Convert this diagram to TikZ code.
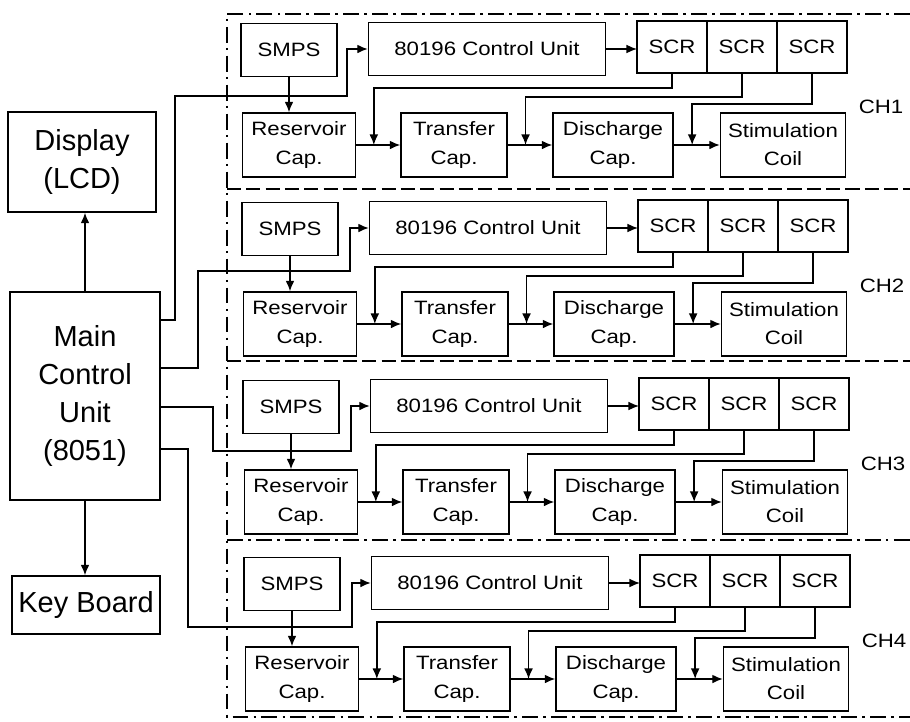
\documentclass[tikz,border=0pt]{standalone}
\usepackage{fontspec}
\setmainfont{Liberation Sans}
\newfontfamily\widefont[FakeStretch=1.15]{Liberation Sans}
\usetikzlibrary{arrows, arrows.meta, positioning, calc}
\tikzset{
	block/.style={draw, thick, align=center, inner sep=1pt, font=\widefont\fontsize{11}{16}\selectfont},
	bigblock/.style={draw, thick, align=center, inner sep=1pt, font=\fontsize{16.5}{21.6}\selectfont},
	scr/.style={block, minimum width=1.4cm, minimum height=1.04cm, outer sep=0pt},
	line/.style={draw, thick, -{Latex[length=6pt, width=5pt]}}
}

\begin{document}
\begin{tikzpicture}[
    % one unit = one pixel of the original figure, y pointing down
    x=0.02cm, y=-0.02cm,
    % dash-dot frame round the four channels
    chframe/.style={thick, dash pattern=on 9pt off 3pt on 1.5pt off 3pt},
    % dashed line between two channels
    chsep/.style={thick, dash pattern=on 8pt off 3pt}
]
\useasboundingbox (0,0) rectangle (910,721);

% --- LEFT SIDE: MAIN CONTROLLER ---
\node[bigblock, minimum width=2.96cm, minimum height=2cm] (lcd) at (82,162) {Display\\(LCD)};
\node[bigblock, minimum width=3cm, minimum height=4.16cm] (mcu) at (85,396) {Main\\Control\\Unit\\(8051)};
\node[bigblock, minimum width=2.96cm, minimum height=1.16cm] (kb) at (86,605) {Key Board};

\draw[line] (mcu.north) -- (mcu.north |- lcd.south);
\draw[line] (mcu.south) -- (mcu.south |- kb.north);

% --- RIGHT SIDE: CHANNEL FRAME ---
\draw[chframe] (910,14) -- (227,14) -- (227,717) -- (910,717);
\foreach \sy in {189,361}
    \draw[chsep] (227,\sy) -- (910,\sy);
\draw[chframe] (227,540) -- (910,540);

% --- CHANNELS CH1 .. CH4 ---
\foreach \ch/\dx/\dy in {1/0/0, 2/1/179, 3/2/357, 4/3/534} {
\begin{scope}[shift={(\dx,\dy)}]
    % upper row
    \node[block, minimum width=1.92cm, minimum height=1.06cm] (smps\ch) at (289,50) {SMPS};
    \node[block, minimum width=4.74cm, minimum height=1.06cm] (cu\ch) at (487,49) {80196 Control Unit};
    \node[scr] (scra\ch) at (672,47) {SCR};
    \node[scr, right=0pt of scra\ch] (scrb\ch) {SCR};
    \node[scr, right=0pt of scrb\ch] (scrc\ch) {SCR};

    % lower row
    \node[block, minimum width=2.26cm, minimum height=1.28cm] (res\ch) at (299,145) {Reservoir\\Cap.};
    \node[block, minimum width=2.12cm, minimum height=1.28cm] (tr\ch) at (454,145) {Transfer\\Cap.};
    \node[block, minimum width=2.4cm, minimum height=1.28cm] (dis\ch) at (613,145) {Discharge\\Cap.};
    \node[block, minimum width=2.5cm, minimum height=1.28cm] (coil\ch) at (783,145) {Stimulation\\Coil};

    \node[font=\widefont\fontsize{11}{13}\selectfont] (chlbl\ch) at (881,107) {CH\ch};

    % points where the SCR lines meet the charge path
    \coordinate (ja\ch) at ($(res\ch.east)!0.4!(tr\ch.west)$);
    \coordinate (jb\ch) at ($(tr\ch.east)!0.4!(dis\ch.west)$);
    \coordinate (jc\ch) at ($(dis\ch.east)!0.4!(coil\ch.west)$);

    \draw[line] (smps\ch.south) -- (smps\ch.south |- res\ch.north);
    \draw[line] (cu\ch.east) -- (cu\ch.east -| scra\ch.west);
    \draw[line] (res\ch) -- (tr\ch);
    \draw[line] (tr\ch) -- (dis\ch);
    \draw[line] (dis\ch) -- (coil\ch);

    \draw[line] (scra\ch.south) -- ++(0,15) -| (ja\ch);
    \draw[line] (scrb\ch.south) -- ++(0,24) -| (jb\ch);
    \draw[line] (scrc\ch.south) -- ++(0,31) -| (jc\ch);
\end{scope}
}

% --- MAIN CONTROLLER TO THE 80196 UNITS ---
\coordinate (mo1) at (mcu.east |- 0,320);
\coordinate (mo2) at (mcu.east |- 0,368);
\coordinate (mo3) at (mcu.east |- 0,407);
\coordinate (mo4) at (mcu.east |- 0,449);

\draw[line] (mo1) -| (175,96) -- (347,96) |- (cu1.west);
\draw[line] (mo2) -| (198,271) -- (350,271) |- (cu2.west);
\draw[line] (mo3) -| (213,451) -- (351,451) |- (cu3.west);
\draw[line] (mo4) -| (188,627) -- (352,627) |- (cu4.west);

\end{tikzpicture}
\end{document}
